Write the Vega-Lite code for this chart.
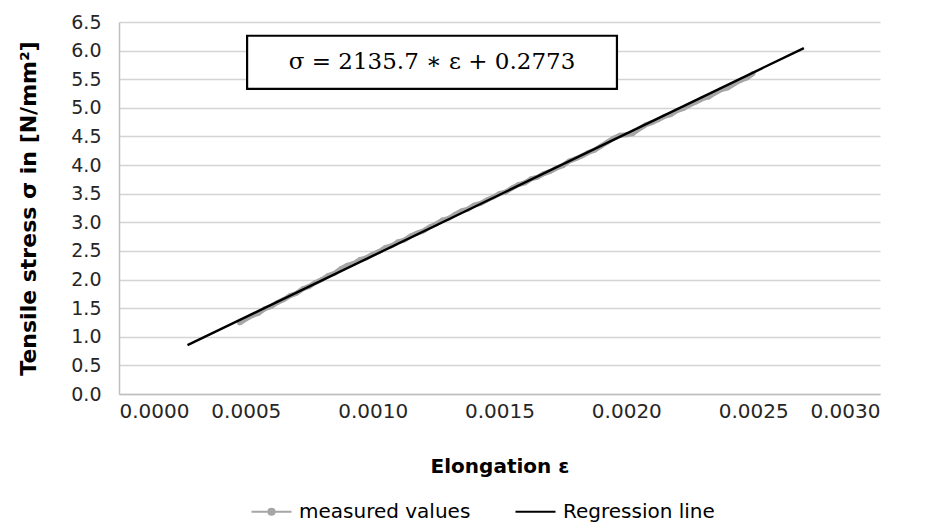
{
  "$schema": "https://vega.github.io/schema/vega-lite/v6.json",
  "width": 761,
  "height": 372,
  "autosize": {"type": "none"},
  "padding": {"left": 119, "top": 22, "right": 51, "bottom": 136},
  "background": "white",
  "config": {
    "view": {"stroke": null},
    "font": "DejaVu Sans"
  },
  "datasets": {
    "measured": [
      {"x": 0.000475, "y": 1.24, "series": "measured values"},
      {"x": 0.000500, "y": 1.31, "series": "measured values"},
      {"x": 0.000525, "y": 1.37, "series": "measured values"},
      {"x": 0.000550, "y": 1.41, "series": "measured values"},
      {"x": 0.000575, "y": 1.49, "series": "measured values"},
      {"x": 0.000600, "y": 1.53, "series": "measured values"},
      {"x": 0.000625, "y": 1.60, "series": "measured values"},
      {"x": 0.000650, "y": 1.65, "series": "measured values"},
      {"x": 0.000675, "y": 1.72, "series": "measured values"},
      {"x": 0.000700, "y": 1.76, "series": "measured values"},
      {"x": 0.000725, "y": 1.84, "series": "measured values"},
      {"x": 0.000750, "y": 1.88, "series": "measured values"},
      {"x": 0.000775, "y": 1.95, "series": "measured values"},
      {"x": 0.000800, "y": 2.00, "series": "measured values"},
      {"x": 0.000825, "y": 2.07, "series": "measured values"},
      {"x": 0.000850, "y": 2.11, "series": "measured values"},
      {"x": 0.000875, "y": 2.19, "series": "measured values"},
      {"x": 0.000900, "y": 2.25, "series": "measured values"},
      {"x": 0.000925, "y": 2.28, "series": "measured values"},
      {"x": 0.000950, "y": 2.35, "series": "measured values"},
      {"x": 0.000975, "y": 2.38, "series": "measured values"},
      {"x": 0.001000, "y": 2.44, "series": "measured values"},
      {"x": 0.001025, "y": 2.49, "series": "measured values"},
      {"x": 0.001050, "y": 2.56, "series": "measured values"},
      {"x": 0.001075, "y": 2.59, "series": "measured values"},
      {"x": 0.001100, "y": 2.66, "series": "measured values"},
      {"x": 0.001125, "y": 2.69, "series": "measured values"},
      {"x": 0.001150, "y": 2.76, "series": "measured values"},
      {"x": 0.001175, "y": 2.81, "series": "measured values"},
      {"x": 0.001200, "y": 2.85, "series": "measured values"},
      {"x": 0.001225, "y": 2.92, "series": "measured values"},
      {"x": 0.001250, "y": 2.97, "series": "measured values"},
      {"x": 0.001275, "y": 3.04, "series": "measured values"},
      {"x": 0.001300, "y": 3.07, "series": "measured values"},
      {"x": 0.001325, "y": 3.14, "series": "measured values"},
      {"x": 0.001350, "y": 3.20, "series": "measured values"},
      {"x": 0.001375, "y": 3.23, "series": "measured values"},
      {"x": 0.001400, "y": 3.30, "series": "measured values"},
      {"x": 0.001425, "y": 3.33, "series": "measured values"},
      {"x": 0.001450, "y": 3.39, "series": "measured values"},
      {"x": 0.001475, "y": 3.44, "series": "measured values"},
      {"x": 0.001500, "y": 3.50, "series": "measured values"},
      {"x": 0.001525, "y": 3.53, "series": "measured values"},
      {"x": 0.001550, "y": 3.60, "series": "measured values"},
      {"x": 0.001575, "y": 3.66, "series": "measured values"},
      {"x": 0.001600, "y": 3.69, "series": "measured values"},
      {"x": 0.001625, "y": 3.76, "series": "measured values"},
      {"x": 0.001650, "y": 3.79, "series": "measured values"},
      {"x": 0.001675, "y": 3.85, "series": "measured values"},
      {"x": 0.001700, "y": 3.89, "series": "measured values"},
      {"x": 0.001725, "y": 3.95, "series": "measured values"},
      {"x": 0.001750, "y": 3.99, "series": "measured values"},
      {"x": 0.001775, "y": 4.07, "series": "measured values"},
      {"x": 0.001800, "y": 4.11, "series": "measured values"},
      {"x": 0.001825, "y": 4.16, "series": "measured values"},
      {"x": 0.001850, "y": 4.22, "series": "measured values"},
      {"x": 0.001875, "y": 4.26, "series": "measured values"},
      {"x": 0.001900, "y": 4.33, "series": "measured values"},
      {"x": 0.001925, "y": 4.40, "series": "measured values"},
      {"x": 0.001950, "y": 4.47, "series": "measured values"},
      {"x": 0.001975, "y": 4.52, "series": "measured values"},
      {"x": 0.002000, "y": 4.53, "series": "measured values"},
      {"x": 0.002025, "y": 4.55, "series": "measured values"},
      {"x": 0.002050, "y": 4.63, "series": "measured values"},
      {"x": 0.002075, "y": 4.70, "series": "measured values"},
      {"x": 0.002100, "y": 4.74, "series": "measured values"},
      {"x": 0.002125, "y": 4.79, "series": "measured values"},
      {"x": 0.002150, "y": 4.85, "series": "measured values"},
      {"x": 0.002175, "y": 4.88, "series": "measured values"},
      {"x": 0.002200, "y": 4.95, "series": "measured values"},
      {"x": 0.002225, "y": 4.99, "series": "measured values"},
      {"x": 0.002250, "y": 5.05, "series": "measured values"},
      {"x": 0.002275, "y": 5.10, "series": "measured values"},
      {"x": 0.002300, "y": 5.16, "series": "measured values"},
      {"x": 0.002325, "y": 5.19, "series": "measured values"},
      {"x": 0.002350, "y": 5.26, "series": "measured values"},
      {"x": 0.002375, "y": 5.32, "series": "measured values"},
      {"x": 0.002400, "y": 5.35, "series": "measured values"},
      {"x": 0.002425, "y": 5.42, "series": "measured values"},
      {"x": 0.002450, "y": 5.48, "series": "measured values"},
      {"x": 0.002475, "y": 5.52, "series": "measured values"},
      {"x": 0.002500, "y": 5.60, "series": "measured values"}
    ],
    "regression": [
      {"x": 0.00027, "y": 0.854, "series": "Regression line"},
      {"x": 0.0027, "y": 6.044, "series": "Regression line"}
    ],
    "box": [
      {"x": 0.000505, "x2": 0.001963, "y": 5.33, "y2": 6.26}
    ],
    "label": [
      {"x": 0.001234, "y": 5.80, "label": "σ = 2135.7 ∗ ε + 0.2773"}
    ]
  },
  "encoding": {
    "x": {
      "field": "x", "type": "quantitative",
      "scale": {"domain": [0, 0.003], "nice": false},
      "axis": {
        "title": "Elongation ε",
        "values": [0, 0.0005, 0.001, 0.0015, 0.002, 0.0025, 0.003],
        "format": ".4f",
        "grid": false,
        "ticks": false,
        "domainColor": "#bfbfbf",
        "domainWidth": 1.5,
        "labelFont": "DejaVu Sans",
        "labelFontSize": 20,
        "labelColor": "#262626",
        "labelOverlap": false,
        "labelPadding": 7,
        "titleFont": "DejaVu Sans",
        "titleFontSize": 20,
        "titleFontWeight": "bold",
        "titleColor": "#000000",
        "titlePadding": 35
      }
    },
    "y": {
      "field": "y", "type": "quantitative",
      "scale": {"domain": [0, 6.5], "nice": false},
      "axis": {
        "title": "Tensile stress σ in [N/mm²]",
        "values": [0, 0.5, 1, 1.5, 2, 2.5, 3, 3.5, 4, 4.5, 5, 5.5, 6, 6.5],
        "format": ".1f",
        "grid": true,
        "gridColor": "#d4d4d4",
        "gridWidth": 1.5,
        "ticks": false,
        "domainColor": "#bfbfbf",
        "domainWidth": 1.5,
        "labelFont": "DejaVu Sans",
        "labelFontSize": 19,
        "labelColor": "#262626",
        "labelOverlap": false,
        "labelPadding": 18,
        "titleFont": "DejaVu Sans",
        "titleFontSize": 22,
        "titleFontWeight": "bold",
        "titleColor": "#000000",
        "titlePadding": 30
      }
    }
  },
  "layer": [
    {
      "data": {"name": "measured"},
      "mark": {"type": "line", "strokeWidth": 5, "point": {"filled": true, "size": 24, "color": "#a0a0a0"}},
      "encoding": {
        "color": {
          "field": "series", "type": "nominal",
          "scale": {"domain": ["measured values", "Regression line"], "range": ["#a6a6a6", "#000000"]},
          "legend": {
            "title": null,
            "orient": "none",
            "direction": "horizontal",
            "legendX": 131,
            "legendY": 468,
            "labelFont": "DejaVu Sans",
            "labelFontSize": 20,
            "labelColor": "#000000",
            "labelLimit": 400,
            "symbolSize": 1600,
            "symbolStrokeWidth": 2.2,
            "labelOffset": 6,
            "columnPadding": 40,
            "encode": {
              "symbols": {
                "update": {
                  "shape": {"signal": "datum.label == 'measured values' ? 'M-1,0H-0.15M0.15,0H1M-0.15,0A0.15,0.15,0,1,1,0.15,0A0.15,0.15,0,1,1,-0.15,0Z' : 'stroke'"}
                }
              }
            }
          }
        }
      }
    },
    {
      "data": {"name": "regression"},
      "mark": {"type": "line", "strokeWidth": 2.4},
      "encoding": {
        "color": {"field": "series", "type": "nominal"}
      }
    },
    {
      "data": {"name": "box"},
      "mark": {"type": "rect", "fill": "white", "stroke": "black", "strokeWidth": 2.2},
      "encoding": {
        "x2": {"field": "x2"},
        "y2": {"field": "y2"}
      }
    },
    {
      "data": {"name": "label"},
      "mark": {"type": "text", "font": "DejaVu Serif", "fontSize": 23, "color": "black", "align": "center", "baseline": "middle"},
      "encoding": {
        "text": {"field": "label"}
      }
    }
  ]
}
